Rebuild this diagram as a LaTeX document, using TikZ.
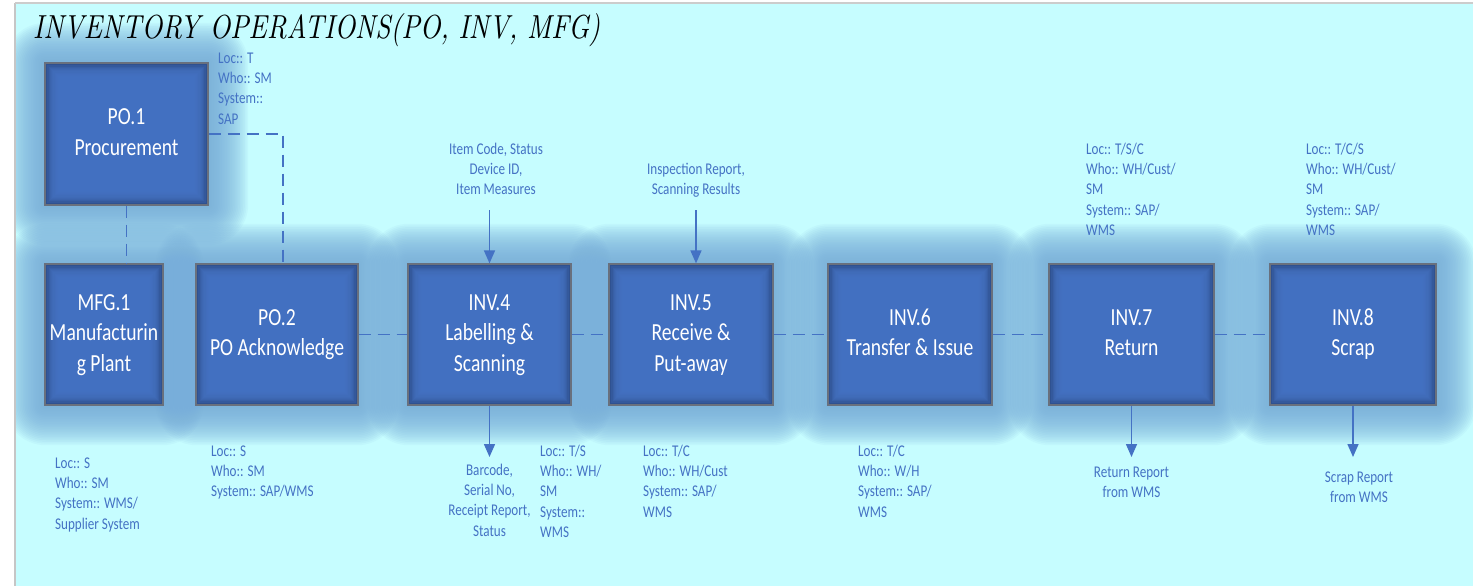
\documentclass[tikz,border=0pt]{standalone}
\usepackage{fontspec}
\setmainfont{Carlito}
\usepackage{graphicx}
\usetikzlibrary{arrows.meta}

\definecolor{bgc}{RGB}{198,253,255}
\definecolor{glowc}{RGB}{118,172,218}
\definecolor{boxmain}{RGB}{70,116,198}
\definecolor{boxdark}{RGB}{40,70,128}
\definecolor{boxedge}{RGB}{105,112,125}
\definecolor{linec}{RGB}{68,114,196}
\definecolor{labc}{RGB}{68,114,196}

\pgfdeclarelayer{bg}
\pgfdeclarelayer{glow}
\pgfsetlayers{bg,glow,main}

% stacked lines, slightly tall lettering
\newcommand{\stk}[2][c]{\scalebox{1}[1.25]{\begin{tabular}{@{}#1@{}}#2\end{tabular}}}
\newcommand{\titlefont}{\fontfamily{lmr}\fontshape{it}\selectfont}

\begin{document}
\begin{tikzpicture}[x=1pt, y=-1pt,
  procbox/.style={draw=boxedge, line width=1.2pt, minimum height=141pt,
    inner sep=0pt, text=white, font=\fontsize{19.6}{24.5}\selectfont,
    path picture={
      \fill[boxdark] (path picture bounding box.south west) rectangle (path picture bounding box.north east);
      \foreach \i in {1,...,12}{
        \fill[boxmain, fill opacity=0.24]
          ([shift={(\i*1.2pt,\i*1.2pt)}]path picture bounding box.south west) rectangle
          ([shift={(-\i*1.2pt,-\i*1.2pt)}]path picture bounding box.north east);
      }
    }},
  lab/.style={text=labc, font=\fontsize{13.1}{16.2}\selectfont, inner sep=0pt},
  conn/.style={draw=linec, line width=1.7pt, dash pattern=on 12pt off 7pt},
  flow/.style={draw=linec, line width=1.5pt, -{Triangle[length=13pt,width=11pt]}}
]
\useasboundingbox (0,0) rectangle (1473,586);

% page and panel
\begin{pgfonlayer}{bg}
  \fill[white] (0,0) rectangle (1473,586);
  \fill[bgc] (15,3) rectangle (1473,586);
\end{pgfonlayer}

% title
\node[anchor=base west, inner sep=0pt] (title) at (33,38)
  {\resizebox{567pt}{25pt}{\titlefont INVENTORY OPERATIONS(PO, INV, MFG)}};

% process boxes
\node[procbox, minimum width=163pt, minimum height=142pt] (po1) at (126.5,134) {\stk{PO.1\\Procurement}};
\node[procbox, minimum width=118pt] (mfg1) at (104,334.5) {\stk{MFG.1\\Manufacturin\\g Plant}};
\node[procbox, minimum width=162pt] (po2) at (277,334.5) {\stk{PO.2\\PO Acknowledge}};
\node[procbox, minimum width=163pt] (inv4) at (489.5,334.5) {\stk{INV.4\\Labelling \&\\Scanning}};
\node[procbox, minimum width=164pt] (inv5) at (691,334.5) {\stk{INV.5\\Receive \&\\Put-away}};
\node[procbox, minimum width=164pt] (inv6) at (910,334.5) {\stk{INV.6\\Transfer \& Issue}};
\node[procbox, minimum width=165pt] (inv7) at (1131.5,334.5) {\stk{INV.7\\Return}};
\node[procbox, minimum width=166pt] (inv8) at (1353,334.5) {\stk{INV.8\\Scrap}};

% soft glow behind the boxes
\begin{pgfonlayer}{glow}
\begin{scope}
  \clip (15,3) rectangle (1473,586);
  \foreach \n in {po1,mfg1,po2,inv4,inv5,inv6,inv7,inv8}{
    \foreach \k in {1,...,24}{
      \fill[glowc, fill opacity=0.075, rounded corners=\k*1.7pt]
        ([shift={(-\k*1.65pt,-\k*1.65pt)}]\n.south west) rectangle
        ([shift={(\k*1.65pt,\k*1.65pt)}]\n.north east);
    }
  }
\end{scope}
\end{pgfonlayer}

% panel edges
\draw[gray!45, line width=2pt] (15,3) -- (15,586);
\draw[gray!40, line width=1.5pt] (15,3) -- (1473,3);

% dashed links
\draw[conn] (po1.south) -- (po1.south |- mfg1.north);
\draw[conn] (po1.east) -| ([xshift=6pt]po2.north);
\draw[conn] (po2.east) -- (inv4.west);
\draw[conn] (inv4.east) -- (inv5.west);
\draw[conn] (inv5.east) -- (inv6.west);
\draw[conn] (inv6.east) -- (inv7.west);
\draw[conn] (inv7.east) -- (inv8.west);

% data arrows
\coordinate (in4) at (489.5,210);
\coordinate (in5) at (696,210);
\coordinate (out4) at (489.5,457);
\coordinate (out7) at (1131.5,457);
\coordinate (out8) at (1353,457);
\draw[flow] (in4) -- (in4 |- inv4.north);
\draw[flow] (in5) -- (in5 |- inv5.north);
\draw[flow] (inv4.south) -- (out4);
\draw[flow] (inv7.south) -- (out7);
\draw[flow] (inv8.south) -- (out8);

% annotations
\node[lab, anchor=north west] (po1info) at (218,49) {\stk[l]{Loc:: T\\Who:: SM\\System::\\SAP}};
\node[lab, anchor=north] (in4lab) at (496,140) {\stk{Item Code, Status\\Device ID,\\Item Measures}};
\node[lab, anchor=north] (in5lab) at (696,160) {\stk{Inspection Report,\\Scanning Results}};
\node[lab, anchor=north west] (inv7info) at (1086,140) {\stk[l]{Loc:: T/S/C\\Who:: WH/Cust/\\SM\\System:: SAP/\\WMS}};
\node[lab, anchor=north west] (inv8info) at (1306,140) {\stk[l]{Loc:: T/C/S\\Who:: WH/Cust/\\SM\\System:: SAP/\\WMS}};

\node[lab, anchor=north west] (mfg1info) at (55,454) {\stk[l]{Loc:: S\\Who:: SM\\System:: WMS/\\Supplier System}};
\node[lab, anchor=north west] (po2info) at (211,442) {\stk[l]{Loc:: S\\Who:: SM\\System:: SAP/WMS}};
\node[lab, anchor=north] (out4lab) at (489.5,461) {\stk{Barcode,\\Serial No,\\Receipt Report,\\Status}};
\node[lab, anchor=north west] (inv4info) at (540,442) {\stk[l]{Loc:: T/S\\Who:: WH/\\SM\\System::\\WMS}};
\node[lab, anchor=north west] (inv5info) at (643,442) {\stk[l]{Loc:: T/C\\Who:: WH/Cust\\System:: SAP/\\WMS}};
\node[lab, anchor=north west] (inv6info) at (858,442) {\stk[l]{Loc:: T/C\\Who:: W/H\\System:: SAP/\\WMS}};
\node[lab, anchor=north] (out7lab) at (1131.5,463) {\stk{Return Report\\from WMS}};
\node[lab, anchor=north] (out8lab) at (1359,468) {\stk{Scrap Report\\from WMS}};
\end{tikzpicture}
\end{document}
